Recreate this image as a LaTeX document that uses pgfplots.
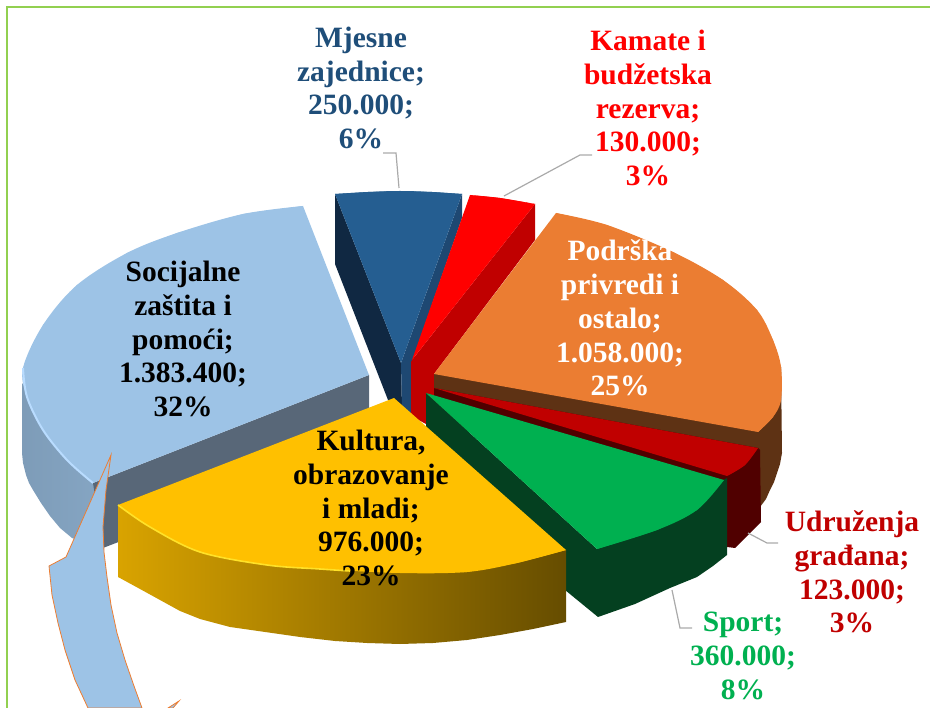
\documentclass[border=0pt]{standalone}
\usepackage{pgfplots}
\pgfplotsset{compat=1.18}
\usepackage{fontspec}
\setmainfont{Liberation Serif}
\definecolor{soc}{RGB}{157,195,230}
\definecolor{socin}{RGB}{88,103,120}
\definecolor{socrim}{RGB}{185,220,255}
\definecolor{mj}{RGB}{37,94,145}
\definecolor{mjl}{RGB}{16,40,66}
\definecolor{mjr}{RGB}{30,72,114}
\definecolor{mjt}{RGB}{31,78,121}
\definecolor{orng}{RGB}{235,125,50}
\definecolor{orw}{RGB}{94,50,20}
\definecolor{drd}{RGB}{192,0,0}
\definecolor{ddr}{RGB}{80,0,0}
\definecolor{grn}{RGB}{0,176,80}
\definecolor{dgr}{RGB}{4,64,32}
\definecolor{yel}{RGB}{255,192,0}
\definecolor{yelrim}{RGB}{255,225,40}
\definecolor{frm}{RGB}{146,208,80}
\definecolor{lead}{RGB}{170,170,170}
\definecolor{arw}{RGB}{237,125,49}
\tikzset{lab/.style={align=center,font=\fontsize{29.5}{33.8}\selectfont\bfseries}}
\pgfplotsset{arc/.style={smooth,tension=0.55}}
\begin{document}
\begin{tikzpicture}
\path[use as bounding box] (0,0) rectangle (930pt,708pt);
\begin{axis}[hide axis,scale only axis,width=930pt,height=708pt,xmin=0,xmax=930,ymin=0,ymax=708,y dir=reverse,clip=true]
% frame
\addplot[frm,line width=2pt] coordinates {(7,708) (7,7) (930,7)};
% Socijalne
\addplot[draw=none,left color=soc!80!black,right color=soc!85!black] coordinates {(22,383) (22,453) (23,463) (26,475) (29,483) (33,490) (41,503) (50,516) (60,528) (72,538) (87,544) (103,548) (103,500) (93,483)} -- cycle;
\addplot[draw=none,fill=socin] coordinates {(369,375) (369,445) (103,548) (93,483)} -- cycle;
\addplot[draw=none,fill=soc] coordinates {(369,375) (303,206) (243,214) (177,233) (127,253) (77,285) (43,325) (23,368) (27,397) (43,430) (67,460) (93,483)} -- cycle;
\addplot[arc,draw=none,fill=soc] coordinates {(303,206) (243,214) (177,233) (127,253) (77,285) (43,325) (23,368) (27,397) (43,430) (67,460) (93,483)} -- cycle;
\addplot[arc,socrim,line width=2pt] coordinates {(23,368) (27,397) (43,430) (67,460) (93,483)};
% Mjesne
\addplot[draw=none,fill=mjl] coordinates {(335,194) (335,264) (388,400) (394,405) (402,408) (401,363)} -- cycle;
\addplot[draw=none,fill=mjr] coordinates {(462,194) (462,218) (412,362) (411,416) (402,408) (401,363)} -- cycle;
\addplot[draw=none,fill=mj] coordinates {(401,363) (335,194) (368,192) (400,191) (432,192) (462,194)} -- cycle;
\addplot[arc,draw=none,fill=mj] coordinates {(335,194) (368,192) (400,191) (432,192) (462,194)} -- cycle;
% Kamate
\addplot[draw=none,fill=drd] coordinates {(412,360) (535,204) (535,240) (434,374) (434,400) (426,400) (426,424) (411,416) (411,362)} -- cycle;
\addplot[draw=none,fill=red] coordinates {(412,360) (470,195) (500,198) (535,204)} -- cycle;
\addplot[arc,draw=none,fill=red] coordinates {(470,195) (500,198) (535,204)} -- cycle;
% Podrska
\addplot[draw=none,fill=orw] coordinates {(434,374) (781,367) (782,453) (780,464) (777,473) (774,482) (770,490) (766,499) (760,507) (750,516) (740,525) (434,420)} -- cycle;
\addplot[draw=none,fill=orng] coordinates {(434,374) (556,213) (607,225) (673,252) (723,280) (757,310) (773,340) (781,367) (781,400) (773,417) (758,432)} -- cycle;
\addplot[arc,draw=none,fill=orng] coordinates {(556,213) (607,225) (673,252) (723,280) (757,310) (773,340) (781,367) (781,400) (773,417) (758,432)} -- cycle;
% Udruzenja
\addplot[draw=none,fill=ddr] coordinates {(434,388) (434,398) (727,490) (727,547) (735,548) (761,522) (760,450) (758,448)} -- cycle;
\addplot[draw=none,fill=drd] coordinates {(434,388) (758,448) (745,465) (727,476)} -- cycle;
\addplot[arc,draw=none,fill=drd] coordinates {(758,448) (745,465) (727,476)} -- cycle;
% Sport
\addplot[draw=none,fill=dgr] coordinates {(426,393) (426,465) (565,590) (598,617) (635,604) (670,588) (697,577) (713,566) (727,555) (727,478) (597,549)} -- cycle;
\addplot[draw=none,fill=grn] coordinates {(426,393) (724,480) (697,510) (657,530) (597,549)} -- cycle;
\addplot[arc,draw=none,fill=grn] coordinates {(724,480) (697,510) (657,530) (597,549)} -- cycle;
% Kultura
\addplot[draw=none,left color=yel!85!black,right color=yel!40!black] coordinates {(118,505) (118,577) (140,589) (160,600) (180,611) (200,619) (230,627) (265,632) (300,637) (335,641) (367,643) (400,644) (433,643) (467,640) (500,635) (533,629) (566,622) (566,550)} -- cycle;
\addplot[draw=none,fill=yel] coordinates {(394,398) (118,505) (150,527) (200,552) (267,565) (320,569) (400,573) (467,572) (517,563) (566,550)} -- cycle;
\addplot[arc,draw=none,fill=yel] coordinates {(118,505) (150,527) (200,552) (267,565) (320,569) (400,573) (467,572) (517,563) (566,550)} -- cycle;
\addplot[arc,yelrim,line width=1.6pt] coordinates {(118,505) (150,527) (200,552) (267,565) (320,569) (350,571)};
% arrow
\addplot[draw=arw,line width=0.8pt,fill=soc] coordinates {(111,455) (66,557) (49,566) (52,595) (58,623) (65,650) (75,680) (88,708) (142,708) (134,686) (125,660) (117,633) (111,605) (107,577) (104,552) (103,527) (106,490)} -- cycle;
\addplot[draw=arw,line width=0.8pt,fill=soc] coordinates {(179,701) (173,708) (168,708)} -- cycle;
% leaders
\addplot[lead,line width=1.2pt] coordinates {(399,188) (396,153) (383,153)};
\addplot[lead,line width=1.2pt] coordinates {(504,196) (580,155) (592,155)};
\addplot[lead,line width=1.2pt] coordinates {(748,533) (767,543) (778,543)};
\addplot[lead,line width=1.2pt] coordinates {(672,590) (680,628) (692,628)};
% labels
\node[lab,text=mjt] at (axis cs:361,88) {Mjesne\\zajednice;\\250.000;\\6\%};
\node[lab,text=red] at (axis cs:648,108) {Kamate i\\budžetska\\rezerva;\\130.000;\\3\%};
\node[lab,text=white] at (axis cs:620,318) {Podrška\\privredi i\\ostalo;\\1.058.000;\\25\%};
\node[lab,text=black] at (axis cs:183,339) {Socijalne\\zaštita i\\pomoći;\\1.383.400;\\32\%};
\node[lab,text=black] at (axis cs:371,508) {Kultura,\\obrazovanje\\i mladi;\\976.000;\\23\%};
\node[lab,text=drd] at (axis cs:852,572) {Udruženja\\građana;\\123.000;\\3\%};
\node[lab,text=grn] at (axis cs:743,656) {Sport;\\360.000;\\8\%};
\end{axis}
\end{tikzpicture}
\end{document}
